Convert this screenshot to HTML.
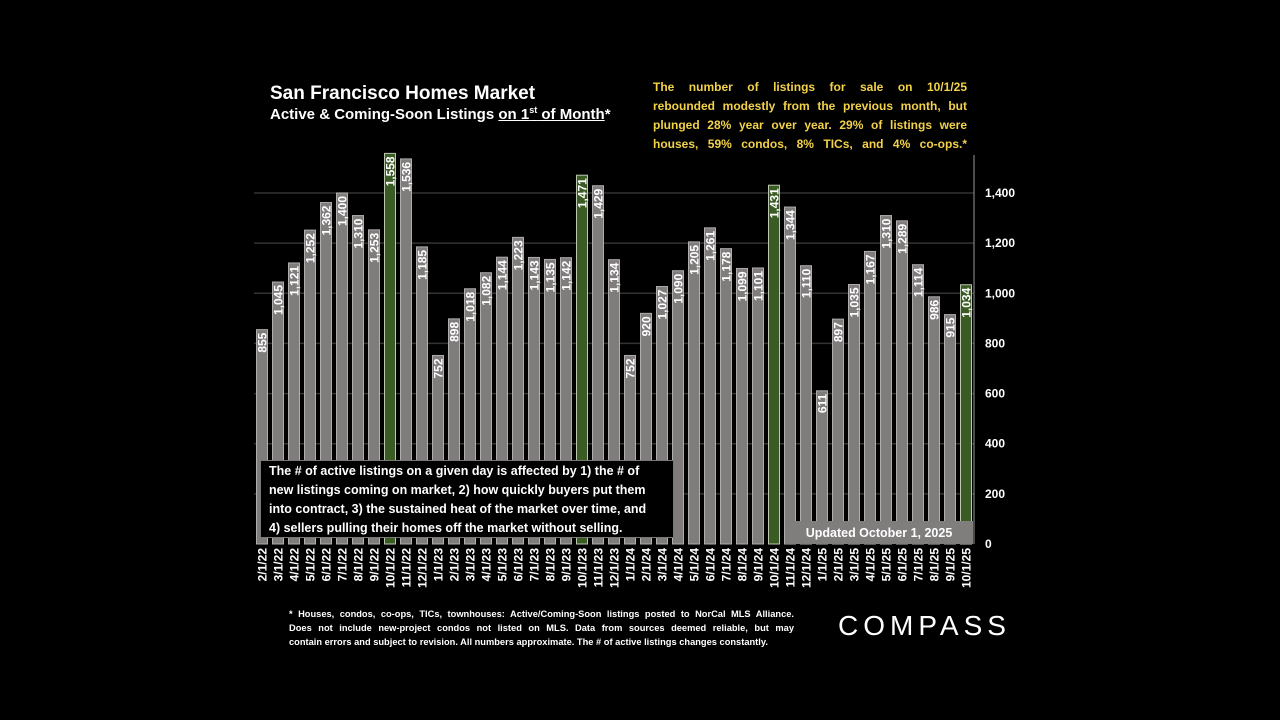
<!DOCTYPE html>
<html><head><meta charset="utf-8">
<style>
body{margin:0;background:#000;width:1280px;height:720px;overflow:hidden;font-family:"Liberation Sans",sans-serif;}
svg{position:absolute;left:0;top:0}
.t{position:absolute;color:#fff;}
.j{text-align:justify;text-align-last:justify;white-space:nowrap;}
.l{white-space:nowrap;}
</style></head><body>
<svg width="1280" height="720">
<g id="grid"></g><g id="bars"></g><g id="xl"></g><g id="yl"></g>
</svg>
<div class="t" style="left:270px;top:83px;font-size:19px;font-weight:bold;">San Francisco Homes Market</div>
<div class="t" style="left:270px;top:105px;font-size:15px;font-weight:bold;">Active &amp; Coming-Soon Listings <u>on 1<sup style="font-size:9px">st</sup> of Month</u>*</div>
<div class="t" style="left:653px;top:78px;width:314px;font-size:12px;font-weight:bold;color:#f2d24a;line-height:19px;">
<div class="j">The number of listings for sale on 10/1/25</div>
<div class="j">rebounded modestly from the previous month, but</div>
<div class="j">plunged 28% year over year. 29% of listings were</div>
<div class="j">houses, 59% condos, 8% TICs, and 4% co-ops.*</div>
</div>
<div class="t" style="left:260px;top:460px;width:396px;height:74px;background:#000;border:1px solid #777;padding:1px 8px;font-size:12.5px;font-weight:bold;line-height:19px;">
<div class="l">The # of active listings on a given day is affected by 1) the # of</div>
<div class="l">new listings coming on market, 2) how quickly buyers put them</div>
<div class="l">into contract, 3) the sustained heat of the market over time, and</div>
<div class="l">4) sellers pulling their homes off the market without selling.</div>
</div>
<div class="t" style="left:785px;top:521px;width:188px;height:23px;background:#807d7d;font-size:12.5px;font-weight:bold;text-align:center;line-height:25px;">Updated October 1, 2025</div>
<div class="t" style="left:289px;top:607px;width:505px;font-size:9.3px;font-weight:bold;line-height:14px;">
<div class="j">* Houses, condos, co-ops, TICs, townhouses: Active/Coming-Soon listings posted to NorCal MLS Alliance.</div>
<div class="j">Does not include new-project condos not listed on MLS. Data from sources deemed reliable, but may</div>
<div class="l">contain errors and subject to revision. All numbers approximate. The # of active listings changes constantly.</div>
</div>
<div class="t" style="left:838px;top:610px;font-size:28px;letter-spacing:5px;">COMPASS</div>
<script>
const categories=["2/1/22","3/1/22","4/1/22","5/1/22","6/1/22","7/1/22","8/1/22","9/1/22","10/1/22","11/1/22","12/1/22","1/1/23","2/1/23","3/1/23","4/1/23","5/1/23","6/1/23","7/1/23","8/1/23","9/1/23","10/1/23","11/1/23","12/1/23","1/1/24","2/1/24","3/1/24","4/1/24","5/1/24","6/1/24","7/1/24","8/1/24","9/1/24","10/1/24","11/1/24","12/1/24","1/1/25","2/1/25","3/1/25","4/1/25","5/1/25","6/1/25","7/1/25","8/1/25","9/1/25","10/1/25"];
const values=[855,1045,1121,1252,1362,1400,1310,1253,1558,1536,1185,752,898,1018,1082,1144,1223,1143,1135,1142,1471,1429,1134,752,920,1027,1090,1205,1261,1178,1099,1101,1431,1344,1110,611,897,1035,1167,1310,1289,1114,986,915,1034];
const yTicks=[0,200,400,600,800,1000,1200,1400];
const NS="http://www.w3.org/2000/svg";
const L=254,R=974,B=544,T=193;
const y=v=>B-(v/1400)*(B-T);
const slot=(R-L)/categories.length;
const x=i=>L+slot*i+slot/2;
function mk(t,a,p){const e=document.createElementNS(NS,t);for(const k in a)e.setAttribute(k,a[k]);p.appendChild(e);return e;}
const G=document.getElementById('grid'),Bg=document.getElementById('bars'),XL=document.getElementById('xl'),YL=document.getElementById('yl');
yTicks.forEach(v=>{
 if(v>0){const g=mk('line',{x1:L,x2:R,y1:y(v),y2:y(v),stroke:'#333','stroke-width':1.5},G);
 
 }
 const t=mk('text',{x:985,y:y(v)+4,fill:'#fff','font-size':12,'font-weight':'bold'},YL);t.textContent=v.toLocaleString('en-US');
 
 
});
const ax=mk('line',{x1:R,x2:R,y1:155,y2:B,stroke:'#999','stroke-width':1},G);


values.forEach((v,i)=>{
 const oct=categories[i].startsWith('10/');
 const cx=x(i),w=11;
 const r=mk('rect',{x:cx-w/2,y:y(v),width:w,height:B-y(v),fill:oct?'#3b5b24':'#807c7c',stroke:oct?'#bcc7b0':'#b0adad','stroke-width':1},Bg);
 
 
 const t=mk('text',{transform:`translate(${cx+4.5},${y(v)+3}) rotate(-90)`,'text-anchor':'end',fill:'#fff','font-size':12,'font-weight':'bold'},Bg);
 t.textContent=v.toLocaleString('en-US');
 
 
 const xl=mk('text',{transform:`translate(${cx+4.5},${B+4}) rotate(-90)`,'text-anchor':'end',fill:'#fff','font-size':12,'font-weight':'bold'},XL);
 xl.textContent=categories[i];
 
 
});
</script>
</body></html>
